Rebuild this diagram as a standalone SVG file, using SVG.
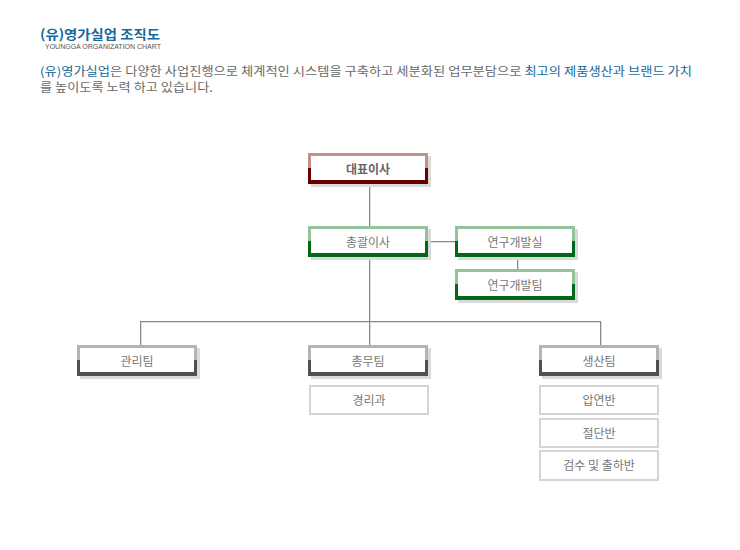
<svg xmlns="http://www.w3.org/2000/svg" width="740" height="550" viewBox="0 0 740 550">
<style>
  .t{font-family:"Noto Sans CJK KR","Noto Sans",sans-serif;}
  .lbl{font-family:"Noto Sans CJK KR","Noto Sans",sans-serif;font-size:12px;fill:#777;text-anchor:middle;}
  .sh{fill:#dadada;}
  .wh{fill:#fff;}
  .red .lt{fill:#c39090;} .red .dk{fill:#660000;}
  .grn .lt{fill:#93c39b;} .grn .dk{fill:#006818;}
  .gry .lt{fill:#b4b4b4;} .gry .dk{fill:#505050;}
  .plain{fill:#fff;stroke:#d4d4d4;stroke-width:2;}
  .ln{stroke:#888;stroke-width:1;fill:none;}
  .lns{stroke:#dedede;stroke-width:1;fill:none;}
</style>
<rect width="740" height="550" fill="#fff"/>
<g id="header">
  <text class="t" x="40" y="39" font-size="13" font-weight="bold" fill="#17699b" textLength="120" lengthAdjust="spacingAndGlyphs">(유)영가실업 조직도</text>
  <text x="45" y="48.5" font-family="Liberation Sans, sans-serif" font-size="6.5" fill="#555" textLength="116" lengthAdjust="spacingAndGlyphs">YOUNGGA ORGANIZATION CHART</text>
  <text class="t" x="40" y="76" font-size="12" fill="#6a6a6a" textLength="652" lengthAdjust="spacingAndGlyphs"><tspan fill="#17699b">(유)영가실업</tspan>은 다양한 사업진행으로 체계적인 시스템을 구축하고 세분화된 업무분담으로 <tspan fill="#17699b">최고의 제품생산과 브랜드 가치</tspan></text>
  <text class="t" x="40" y="91.5" font-size="12" fill="#6a6a6a" textLength="173" lengthAdjust="spacingAndGlyphs">를 높이도록 노력 하고 있습니다.</text>
</g>
<g id="connectors">
  <path class="lns" d="M370.5,184 V226 M370.5,256 V345 M141.5,322.5 H601.5 M141.5,322 V345 M601.5,322 V345 M428,242.5 H455 M518.5,256 V269"/>
  <path class="ln" d="M369.5,184 V226 M369.5,256 V345 M140.5,321.5 H600.5 M140.5,321 V345 M600.5,321 V345 M428,241.5 H455 M517.5,256 V269"/>
</g>
<g id="n-ceo" class="red" transform="translate(308,153)">
  <rect class="sh" x="3" y="3" width="120" height="31"/>
  <rect class="lt" x="0" y="0" width="120" height="31"/>
  <rect class="dk" x="0" y="15" width="120" height="16"/>
  <rect class="wh" x="3" y="3" width="114" height="24"/>
  <text class="lbl" x="60" y="20.5" font-weight="bold" style="fill:#666">대표이사</text>
</g>
<g id="n-director" class="grn" transform="translate(308,226)">
  <rect class="sh" x="3" y="3" width="120" height="31"/>
  <rect class="lt" x="0" y="0" width="120" height="31"/>
  <rect class="dk" x="0" y="15" width="120" height="16"/>
  <rect class="wh" x="3" y="3" width="114" height="24"/>
  <text class="lbl" x="60" y="20.5">총괄이사</text>
</g>
<g id="n-rnd" class="grn" transform="translate(455,226)">
  <rect class="sh" x="3" y="3" width="120" height="31"/>
  <rect class="lt" x="0" y="0" width="120" height="31"/>
  <rect class="dk" x="0" y="15" width="120" height="16"/>
  <rect class="wh" x="3" y="3" width="114" height="24"/>
  <text class="lbl" x="60" y="20.5">연구개발실</text>
</g>
<g id="n-rndteam" class="grn" transform="translate(455,269)">
  <rect class="sh" x="3" y="3" width="120" height="31"/>
  <rect class="lt" x="0" y="0" width="120" height="31"/>
  <rect class="dk" x="0" y="15" width="120" height="16"/>
  <rect class="wh" x="3" y="3" width="114" height="24"/>
  <text class="lbl" x="60" y="20.5">연구개발팀</text>
</g>
<g id="n-mgmt" class="gry" transform="translate(77,345)">
  <rect class="sh" x="3" y="3" width="120" height="31"/>
  <rect class="lt" x="0" y="0" width="120" height="31"/>
  <rect class="dk" x="0" y="15" width="120" height="16"/>
  <rect class="wh" x="3" y="3" width="114" height="24"/>
  <text class="lbl" x="60" y="20.5">관리팀</text>
</g>
<g id="n-general" class="gry" transform="translate(308,345)">
  <rect class="sh" x="3" y="3" width="120" height="31"/>
  <rect class="lt" x="0" y="0" width="120" height="31"/>
  <rect class="dk" x="0" y="15" width="120" height="16"/>
  <rect class="wh" x="3" y="3" width="114" height="24"/>
  <text class="lbl" x="60" y="20.5">총무팀</text>
</g>
<g id="n-prod" class="gry" transform="translate(539,345)">
  <rect class="sh" x="3" y="3" width="120" height="31"/>
  <rect class="lt" x="0" y="0" width="120" height="31"/>
  <rect class="dk" x="0" y="15" width="120" height="16"/>
  <rect class="wh" x="3" y="3" width="114" height="24"/>
  <text class="lbl" x="60" y="20.5">생산팀</text>
</g>
<g id="n-account" transform="translate(309,385)">
  <rect class="plain" x="1" y="1" width="118" height="28"/>
  <text class="lbl" x="60" y="19.5">경리과</text>
</g>
<g id="n-roll" transform="translate(539,385)">
  <rect class="plain" x="1" y="1" width="118" height="28"/>
  <text class="lbl" x="60" y="19.5">압연반</text>
</g>
<g id="n-cut" transform="translate(539,418)">
  <rect class="plain" x="1" y="1" width="118" height="28"/>
  <text class="lbl" x="60" y="19.5">절단반</text>
</g>
<g id="n-inspect" transform="translate(539,450)">
  <rect class="plain" x="1" y="1" width="118" height="29"/>
  <text class="lbl" x="60" y="20">검수 및 출하반</text>
</g>
</svg>
